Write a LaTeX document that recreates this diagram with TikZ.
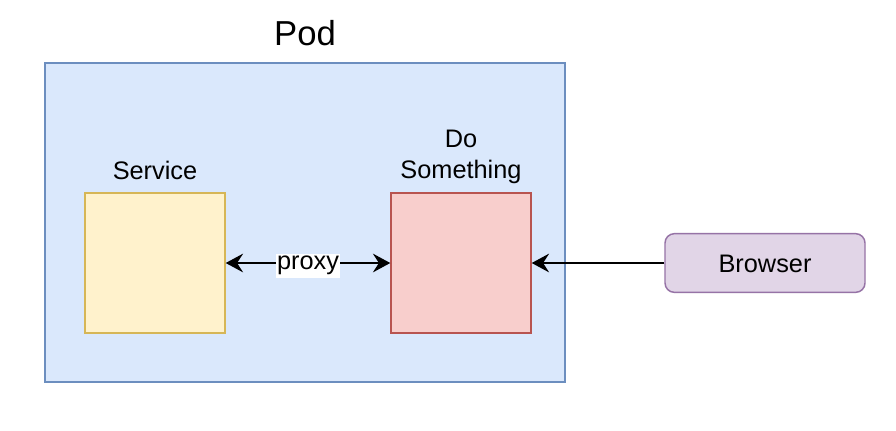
\documentclass[tikz,border=0pt]{standalone}
\usepackage{fontspec}
\setmainfont{Liberation Sans}
\usetikzlibrary{arrows.meta}
\definecolor{podfill}{HTML}{DAE8FC}
\definecolor{podline}{HTML}{6C8EBF}
\definecolor{svcfill}{HTML}{FFF2CC}
\definecolor{svcline}{HTML}{D6B656}
\definecolor{dofill}{HTML}{F8CECC}
\definecolor{doline}{HTML}{B85450}
\definecolor{brfill}{HTML}{E1D5E7}
\definecolor{brline}{HTML}{9673A6}
\tikzset{
  lbl/.style={font=\fontsize{19}{23.25}\selectfont, inner sep=0pt, align=center},
  conn/.style={line width=1.5pt, {Stealth[length=13pt,width=14pt,inset=4.5pt]}-{Stealth[length=13pt,width=14pt,inset=4.5pt]}},
  oneway/.style={line width=1.5pt, -{Stealth[length=13pt,width=14pt,inset=4.5pt]}},
  boxline/.style={line width=1.1pt}
}
\begin{document}
\begin{tikzpicture}[x=0.75pt,y=-0.75pt]
\useasboundingbox (0,0) rectangle (896,430);
\fill[white] (0,0) rectangle (896,430);
\draw[boxline, draw=podline, fill=podfill] (45,63) rectangle (565,382);
\node[font=\fontsize{26}{31}\selectfont, inner sep=0pt] (podlbl) at (305,33) {Pod};
\node[boxline, draw=svcline, fill=svcfill, minimum width=105pt, minimum height=105pt, inner sep=0pt] (svc) at (155,263) {};
\node[boxline, draw=doline, fill=dofill, minimum width=105pt, minimum height=105pt, inner sep=0pt] (do) at (461,263) {};
\node[boxline, draw=brline, fill=brfill, rounded corners=7pt, minimum width=150pt, minimum height=44pt, inner sep=0pt] (br) at (765,263) {};
\node[lbl] (brtxt) at (765,263.5) {Browser};
\node[lbl] (svclbl) at (155,170) {Service};
\node[lbl] (dolbl) at (461,157) {Do\\Something};
\draw[conn] (svc.east) -- (do.west) node[midway, yshift=-2pt, fill=white, lbl, inner xsep=1pt, inner ysep=2pt] (proxy) {proxy};
\draw[oneway] (br.west) -- (do.east);
\end{tikzpicture}
\end{document}
